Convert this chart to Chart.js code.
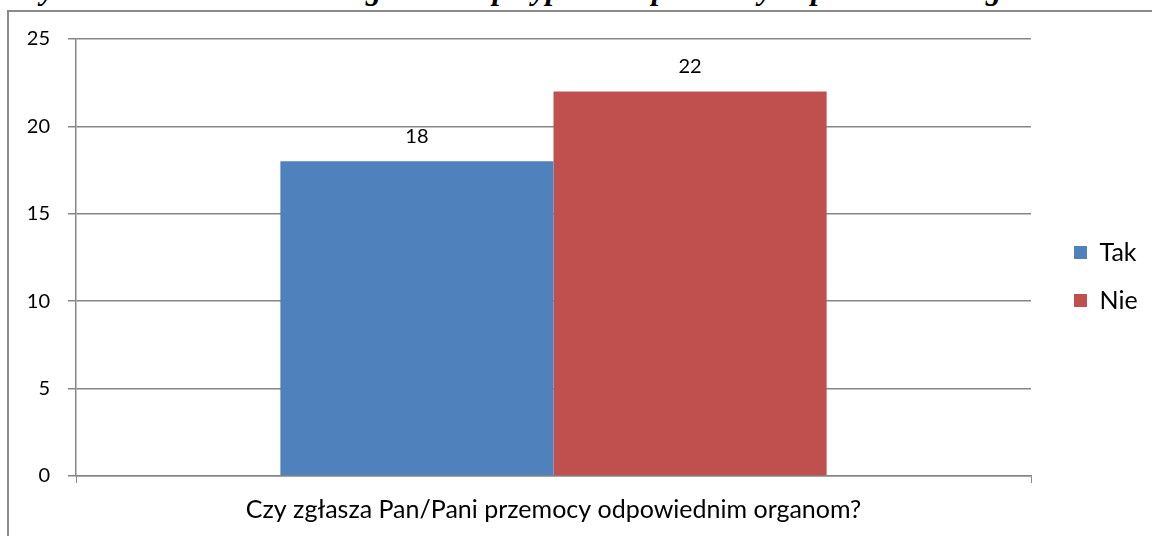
<!DOCTYPE html>
<html>
<head>
<meta charset="utf-8">
<script src="https://cdn.jsdelivr.net/npm/chart.js@4/dist/chart.umd.min.js"></script>
<style>
    html, body { margin: 0; padding: 0; background: #fff; overflow: hidden; }
    body { width: 1152px; height: 536px; position: relative; }
    #caption {
        position: absolute; left: 15px; top: -29px; white-space: nowrap; line-height: 33px;
        font: bold italic 31px "Liberation Serif", "Times New Roman", serif; color: #000;
    }
    #frame {
        position: absolute; left: 7px; top: 10px; width: 1200px; height: 600px;
        border-left: 2px solid #8a8a8a; border-top: 2px solid #8a8a8a; background: #fff;
    }
    #wrap { position: absolute; left: 0; top: 0; width: 1152px; height: 536px; }
</style>
</head>
<body>
<div id="caption">Wykres 12. Ankietowani a zgłaszanie przypadków przemocy odpowiednim organom</div>
<div id="frame"></div>
<div id="wrap"><canvas id="chart"></canvas></div>
<script>
// Chart data
const categories = ['Czy zgłasza Pan/Pani przemocy odpowiednim organom?'];
const seriesNames = ['Tak', 'Nie'];
const takValues = [18];
const nieValues = [22];
const yTicks = [0, 5, 10, 15, 20, 25];

const colors = ['#4F81BD', '#C0504D'];
const axisGray = '#868686';
const font = "Lato, 'Open Sans', sans-serif";

// Value labels above bars
const valueLabels = {
    id: 'valueLabels',
    afterDatasetsDraw(chart) {
        const ctx = chart.ctx;
        ctx.save();
        ctx.font = '20px ' + font;
        ctx.fillStyle = '#000';
        ctx.textAlign = 'center';
        ctx.textBaseline = 'middle';
        chart.data.datasets.forEach((ds, i) => {
            chart.getDatasetMeta(i).data.forEach((bar, j) => {
                ctx.fillText(String(ds.data[j]), bar.x, bar.y - 25);
            });
        });
        ctx.restore();
    }
};

// Fixed legend column width, then nudge it to where Excel puts it
const legendPlace = {
    id: 'legendPlace',
    beforeUpdate(chart) {
        const lg = chart.legend;
        if (lg && !lg._patched) {
            const fit = lg.fit;
            lg.fit = function () {
                fit.call(this);
                this.width = 121;
            };
            lg._patched = true;
        }
    },
    afterLayout(chart) {
        const lg = chart.legend;
        const dx = 20, dy = -11;
        lg.left += dx; lg.right += dx;
        lg.top += dy; lg.bottom += dy;
    }
};

new Chart(document.getElementById('chart'), {
    type: 'bar',
    data: {
        labels: categories,
        datasets: [
            { label: seriesNames[0], data: takValues, backgroundColor: colors[0] },
            { label: seriesNames[1], data: nieValues, backgroundColor: colors[1] }
        ]
    },
    options: {
        responsive: true,
        maintainAspectRatio: false,
        animation: false,
        devicePixelRatio: 1,
        layout: { padding: { top: 39, left: 0, right: 0, bottom: 0 } },
        datasets: { bar: { categoryPercentage: 0.572, barPercentage: 1.0 } },
        scales: {
            x: {
                grid: { drawOnChartArea: false, color: axisGray, tickLength: 7, offset: true },
                border: { color: axisGray, width: 1.5 },
                ticks: { color: '#000', font: { family: font, size: 25 }, padding: 12 },
                afterFit(scale) { scale.height = 60; }
            },
            y: {
                min: 0,
                max: 25,
                afterBuildTicks(scale) { scale.ticks = yTicks.map(v => ({ value: v })); },
                grid: { color: axisGray, lineWidth: 1.5, tickLength: 8 },
                border: { color: axisGray, width: 1.5 },
                ticks: { color: '#000', font: { family: font, size: 20 }, padding: 18 },
                afterFit(scale) { scale.width = 76; }
            }
        },
        plugins: {
            legend: {
                position: 'right',
                labels: {
                    boxWidth: 13,
                    boxHeight: 13,
                    padding: 23,
                    color: '#000',
                    font: { family: font, size: 25 }
                }
            },
            tooltip: { enabled: false }
        }
    },
    plugins: [valueLabels, legendPlace]
});
</script>
</body>
</html>
